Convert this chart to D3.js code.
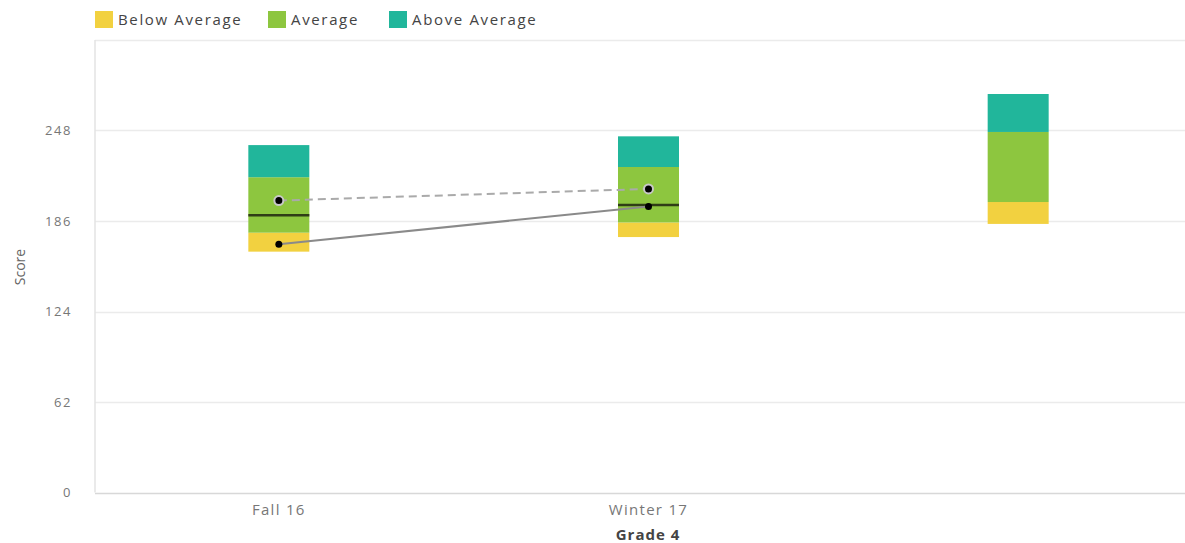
<!doctype html>
<html lang="en">
<head>
  <meta charset="utf-8">
  <title>Grade 4 scores</title>
  <style>
    body { margin: 0; background: #fff; }
    text { font-family: "Open Sans", sans-serif; }
  </style>
</head>
<body>
<script src="https://cdn.jsdelivr.net/npm/d3@7/dist/d3.min.js"></script>
<script>
  // categories and values
  var terms = ["Fall 16", "Winter 17", ""];
  var rangeLow   = [165, 175, 184];   // bottom of below-average band
  var belowTop   = [178, 185, 199];   // below average -> average
  var averageTop = [216, 223, 247];   // average -> above average
  var aboveTop   = [238, 244, 273];   // top of above average band
  var medians    = [190, 197, null];
  var scoreDashed = [200, 208];       // dashed series
  var scoreSolid  = [170, 196];       // solid series
  var yTicks = [0, 62, 124, 186, 248];
  var legendLabels = ["Below Average", "Average", "Above Average"];
  var bandColors = ["#f2d140", "#8dc63f", "#21b69b"];

  var w = 1185, h = 543;
  var plotLeft = 95, plotTop = 40, plotBottom = 492.5;

  var svg = d3.select("body").append("svg")
    .attr("width", w)
    .attr("height", h);

  var x = d3.scaleBand()
    .domain(d3.range(terms.length))
    .range([94, 1203]);

  var y = d3.scaleLinear()
    .domain([0, 310])
    .range([plotBottom, plotTop]);

  // gridlines
  svg.append("g").selectAll("line")
    .data(yTicks.concat([310]))
    .enter().append("line")
    .attr("x1", plotLeft).attr("x2", w)
    .attr("y1", function(d){ return Math.round(y(d)) + 0.5; })
    .attr("y2", function(d){ return Math.round(y(d)) + 0.5; })
    .style("stroke", function(d){ return d == 0 ? "#d8d8d8" : "#ebebeb"; })
    .style("stroke-width", 1.5);

  svg.append("line")
    .attr("x1", plotLeft).attr("x2", plotLeft)
    .attr("y1", plotTop).attr("y2", plotBottom)
    .style("stroke", "#e3e3e3")
    .style("stroke-width", 1.5);

  // y axis
  var yAxis = d3.axisLeft(y).tickValues(yTicks).tickSize(0).tickPadding(0);
  var gy = svg.append("g")
    .attr("transform", "translate(72,0)")
    .call(yAxis);
  gy.select(".domain").remove();
  gy.selectAll("text")
    .attr("fill", "#777")
    .style("font-family", "Open Sans")
    .style("font-size", "13px")
    .style("letter-spacing", "1.6px");

  svg.append("text")
    .attr("transform", "translate(25,267) rotate(-90)")
    .attr("text-anchor", "middle")
    .attr("fill", "#666")
    .style("font-size", "14px")
    .text("Score");

  // x axis
  var xAxis = d3.axisBottom(x).tickFormat(function(i){ return terms[i]; }).tickSize(0).tickPadding(0);
  var gx = svg.append("g")
    .attr("transform", "translate(0,504)")
    .call(xAxis);
  gx.select(".domain").remove();
  gx.selectAll("text")
    .attr("fill", "#777")
    .style("font-family", "Open Sans")
    .style("font-size", "15px")
    .style("letter-spacing", "1.3px");

  svg.append("text")
    .attr("x", 648).attr("y", 540)
    .attr("text-anchor", "middle")
    .attr("fill", "#444")
    .style("font-size", "15px")
    .style("font-weight", "bold")
    .style("letter-spacing", "1px")
    .text("Grade 4");

  // stacked range bars
  var barW = 61;
  var segments = [];
  terms.forEach(function(t, i){
    segments.push({i: i, lo: rangeLow[i], hi: belowTop[i], c: bandColors[0]});
    segments.push({i: i, lo: belowTop[i], hi: averageTop[i], c: bandColors[1]});
    segments.push({i: i, lo: averageTop[i], hi: aboveTop[i], c: bandColors[2]});
  });

  svg.append("g").selectAll("rect")
    .data(segments)
    .enter().append("rect")
    .attr("x", function(d){ return x(d.i) + x.bandwidth()/2 - barW/2; })
    .attr("y", function(d){ return y(d.hi); })
    .attr("width", barW)
    .attr("height", function(d){ return y(d.lo) - y(d.hi); })
    .style("fill", function(d){ return d.c; });

  // median lines
  svg.append("g").selectAll("line")
    .data(medians.map(function(m, i){ return {i: i, v: m}; }).filter(function(d){ return d.v != null; }))
    .enter().append("line")
    .attr("x1", function(d){ return x(d.i) + x.bandwidth()/2 - barW/2; })
    .attr("x2", function(d){ return x(d.i) + x.bandwidth()/2 + barW/2; })
    .attr("y1", function(d){ return y(d.v); })
    .attr("y2", function(d){ return y(d.v); })
    .style("stroke", "#2f3d16")
    .style("stroke-width", 2.5);

  var cx = function(d, i){ return x(i) + x.bandwidth()/2; };
  var line = d3.line().x(cx).y(function(d){ return y(d); });

  // dashed series
  svg.append("path")
    .attr("d", line(scoreDashed))
    .style("fill", "none")
    .style("stroke", "#aaa")
    .style("stroke-width", 2)
    .style("stroke-dasharray", "8,5");

  // solid series
  svg.append("path")
    .attr("d", line(scoreSolid))
    .style("fill", "none")
    .style("stroke", "#8a8a8a")
    .style("stroke-width", 2);

  svg.append("g").selectAll("circle")
    .data(scoreDashed)
    .enter().append("circle")
    .attr("cx", cx)
    .attr("cy", function(d){ return y(d); })
    .attr("r", 4.5)
    .style("fill", "#000")
    .style("stroke", "#c8c8c8")
    .style("stroke-width", 2);

  svg.append("g").selectAll("circle")
    .data(scoreSolid)
    .enter().append("circle")
    .attr("cx", cx)
    .attr("cy", function(d){ return y(d); })
    .attr("r", 3.5)
    .style("fill", "#000");

  // legend
  var legendX = [95, 268, 389];
  var legend = svg.append("g").selectAll("g")
    .data(legendLabels)
    .enter().append("g")
    .attr("transform", function(d, i){ return "translate(" + legendX[i] + ",11)"; });

  legend.append("rect")
    .attr("width", 18).attr("height", 17)
    .style("fill", function(d, i){ return bandColors[i]; });

  legend.append("text")
    .attr("x", 23).attr("y", 14)
    .attr("fill", "#444")
    .style("font-size", "15px")
    .style("letter-spacing", "1.65px")
    .text(function(d){ return d; });
</script>
</body>
</html>
